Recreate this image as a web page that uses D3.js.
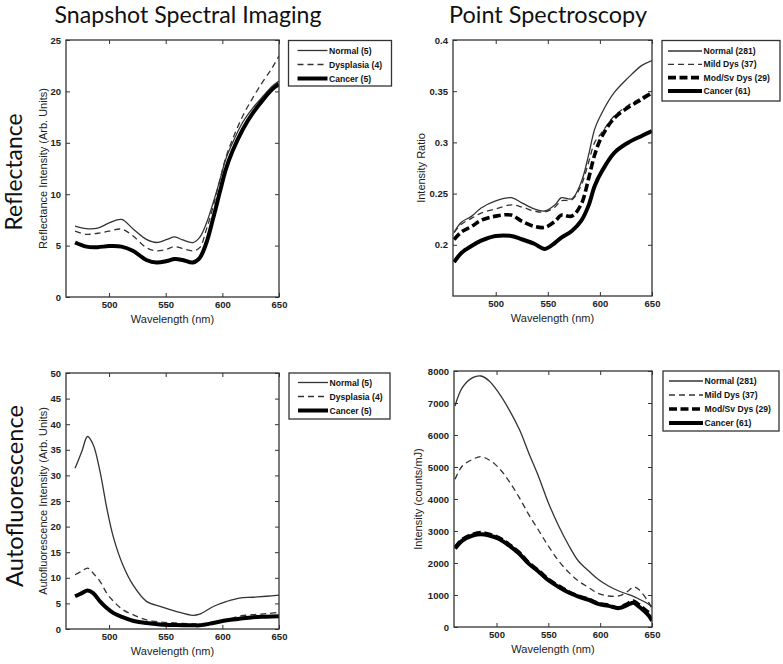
<!DOCTYPE html>
<html>
<head>
<meta charset="utf-8">
<script src="https://cdn.jsdelivr.net/npm/d3@7"></script>
<style>
	body { margin: 0; background: #fff; }
	.tick text { font-family: "Liberation Sans", Arial, sans-serif; font-size: 9.5px; font-weight: bold; fill: #222; }
	.tick line { stroke: #333; stroke-width: 1; }
	.frame { fill: none; stroke: #333; stroke-width: 1.3; }
	.ax-label { font-family: "Liberation Sans", Arial, sans-serif; font-size: 11px; fill: #222; }
	.leg-text { font-family: "Liberation Sans", Arial, sans-serif; font-size: 8.6px; font-weight: bold; fill: #111; }
	.big-label { font-family: Lato, "Open Sans", sans-serif; fill: #111; }
</style>
</head>
<body>
<script>
"use strict";

// ---- Data -----------------------------------------------------------------

// Snapshot spectral imaging, reflectance
var ssiReflWl     = [470, 480, 490, 500, 511, 521, 533, 542, 551, 558, 565, 574, 580, 586, 592, 598, 603, 609, 618, 627, 636, 644, 650];
var ssiReflNormal = [6.9, 6.65, 6.7, 7.2, 7.55, 6.65, 5.6, 5.3, 5.6, 5.85, 5.55, 5.3, 5.8, 7.2, 9.2, 11.45, 13.4, 15.0, 17.0, 18.4, 19.55, 20.5, 21.0];
var ssiReflDysp   = [6.4, 6.1, 6.2, 6.4, 6.6, 5.95, 4.8, 4.5, 4.65, 4.9, 4.7, 4.5, 4.8, 6.6, 8.85, 11.45, 13.55, 15.35, 17.6, 19.4, 21.0, 22.3, 23.45];
var ssiReflCancer = [5.3, 4.9, 4.85, 4.95, 4.9, 4.5, 3.6, 3.35, 3.5, 3.7, 3.6, 3.35, 3.8, 5.3, 7.7, 10.3, 12.4, 14.2, 16.3, 17.9, 19.2, 20.2, 20.7];

// Point spectroscopy, reflectance (intensity ratio)
var psReflWl     = [460, 467, 477, 486, 500, 515, 525, 537, 547, 557, 563, 573, 582, 589, 595, 602, 614, 627, 640, 650];
var psReflNormal = [0.212, 0.222, 0.228, 0.236, 0.243, 0.246, 0.241, 0.235, 0.233, 0.239, 0.246, 0.245, 0.261, 0.287, 0.313, 0.329, 0.349, 0.363, 0.375, 0.380];
var psReflMild   = [0.212, 0.220, 0.226, 0.231, 0.235, 0.239, 0.237, 0.233, 0.232, 0.237, 0.243, 0.244, 0.258, 0.280, 0.300, 0.310, 0.326, 0.336, 0.344, 0.350];
var psReflModSv  = [0.205, 0.2125, 0.218, 0.224, 0.228, 0.229, 0.223, 0.218, 0.217, 0.223, 0.229, 0.228, 0.2395, 0.264, 0.288, 0.306, 0.324, 0.334, 0.342, 0.3486];
var psReflCancer = [0.183, 0.192, 0.199, 0.204, 0.2086, 0.2086, 0.2054, 0.201, 0.196, 0.202, 0.207, 0.2135, 0.2233, 0.238, 0.2575, 0.272, 0.29, 0.2997, 0.3063, 0.311];

// Snapshot spectral imaging, autofluorescence
var ssiAfWl     = [470, 476, 481, 486, 492, 498, 504, 512, 521, 533, 545, 559, 574, 580, 592, 604, 615, 627, 639, 650];
var ssiAfNormal = [31.4, 34.7, 37.6, 36.0, 30.8, 23.6, 17.8, 12.6, 8.66, 5.4, 4.4, 3.45, 2.67, 2.9, 4.4, 5.4, 6.05, 6.2, 6.4, 6.6];
var ssiAfDysp   = [10.6, 11.3, 11.9, 10.9, 9.3, 7.0, 5.4, 3.8, 2.8, 1.8, 1.37, 1.17, 0.98, 0.98, 1.3, 1.8, 2.5, 2.8, 3.0, 3.25];
var ssiAfCancer = [6.4, 7.0, 7.5, 7.0, 5.4, 4.1, 3.1, 2.3, 1.6, 1.17, 0.9, 0.78, 0.72, 0.72, 1.17, 1.7, 2.0, 2.3, 2.4, 2.5];

// Point spectroscopy, autofluorescence (counts/mJ)
var psAfWl     = [460, 467, 477, 485, 493, 502, 512, 522, 531, 541, 550, 560, 570, 579, 589, 598, 608, 618, 627, 632, 637, 647, 650];
var psAfNormal = [6906, 7479, 7792, 7844, 7688, 7323, 6802, 6177, 5448, 4667, 3885, 3156, 2531, 2062, 1750, 1490, 1281, 1125, 1021, 960, 880, 708, 635];
var psAfMild   = [4615, 5031, 5240, 5323, 5219, 4979, 4562, 4042, 3521, 3000, 2531, 2062, 1698, 1438, 1229, 1052, 969, 969, 1125, 1250, 1177, 760, 552];
var psAfModSv  = [2479, 2740, 2896, 2948, 2896, 2792, 2583, 2323, 2010, 1750, 1490, 1281, 1094, 969, 865, 740, 677, 604, 740, 812, 708, 450, 400];
var psAfCancer = [2450, 2700, 2860, 2900, 2860, 2760, 2550, 2290, 1980, 1720, 1460, 1250, 1070, 950, 845, 720, 660, 590, 700, 760, 650, 350, 190];

// Tick values
var wlTicks       = [500, 550, 600, 650];
var ssiReflTicks  = [0, 5, 10, 15, 20, 25];
var psReflTicks   = [0.2, 0.25, 0.3, 0.35, 0.4];
var ssiAfTicks    = [0, 5, 10, 15, 20, 25, 30, 35, 40, 45, 50];
var psAfTicks     = [0, 1000, 2000, 3000, 4000, 5000, 6000, 7000, 8000];

// Legend labels
var ssiNames = ["Normal (5)", "Dysplasia (4)", "Cancer (5)"];
var psNames  = ["Normal (281)", "Mild Dys (37)", "Mod/Sv Dys (29)", "Cancer (61)"];

// ---- Line styles -------------------------------------------------------------
var stNormal = { color: "#333", width: 1.3, dash: null };
var stDysp   = { color: "#333", width: 1.3, dash: "6,4" };
var stModSv  = { color: "#000", width: 3.6, dash: "8,3.5" };
var stCancer = { color: "#000", width: 4, dash: null };

var svg = d3.select("body").append("svg").attr("width", 783).attr("height", 664);

////////////////////////////////////////////////////////////////////////////////
// Draw one MATLAB-style panel: boxed axes, inward ticks on all 4 sides,
// the spectra, and a legend to the right.
////////////////////////////////////////////////////////////////////////////////
function drawPanel(p) {
	var w = p.x1 - p.x0, h = p.y1 - p.y0;
	var g = svg.append("g").attr("transform", "translate(" + p.x0 + "," + p.y0 + ")");

	var x = d3.scaleLinear().domain(p.xDom).range([0, w]);
	var y = d3.scaleLinear().domain(p.yDom).range([h, 0]);
	var fmt = function(d) { return String(d); };

	// bottom / left axes with labels, top / right mirrored without
	g.append("g").attr("transform", "translate(0," + h + ")")
		.call(d3.axisBottom(x).tickValues(wlTicks).tickFormat(fmt).tickSizeInner(-4).tickSizeOuter(0).tickPadding(4))
		.call(function(a) { a.select(".domain").remove(); });
	g.append("g")
		.call(d3.axisTop(x).tickValues(wlTicks).tickFormat("").tickSizeInner(-4).tickSizeOuter(0))
		.call(function(a) { a.select(".domain").remove(); });
	g.append("g")
		.call(d3.axisLeft(y).tickValues(p.yTicks).tickFormat(fmt).tickSizeInner(-4).tickSizeOuter(0).tickPadding(5))
		.call(function(a) { a.select(".domain").remove(); });
	g.append("g").attr("transform", "translate(" + w + ",0)")
		.call(d3.axisRight(y).tickValues(p.yTicks).tickFormat("").tickSizeInner(-4).tickSizeOuter(0))
		.call(function(a) { a.select(".domain").remove(); });

	// spectra, clipped to the box
	var clipId = "clip" + p.id;
	g.append("clipPath").attr("id", clipId).append("rect").attr("width", w).attr("height", h);
	var line = d3.line().curve(d3.curveCatmullRom.alpha(0.5))
		.x(function(d) { return x(d[0]); }).y(function(d) { return y(d[1]); });
	var cg = g.append("g").attr("clip-path", "url(#" + clipId + ")");
	p.series.forEach(function(s) {
		cg.append("path").datum(d3.zip(p.wl, s.values))
			.attr("d", line).attr("fill", "none")
			.attr("stroke", s.style.color).attr("stroke-width", s.style.width)
			.attr("stroke-dasharray", s.style.dash).attr("stroke-linejoin", "round");
	});

	g.append("rect").attr("class", "frame").attr("width", w).attr("height", h);

	// axis labels
	g.append("text").attr("class", "ax-label").attr("x", w / 2).attr("y", h + 26)
		.attr("text-anchor", "middle").text("Wavelength (nm)");
	g.append("text").attr("class", "ax-label")
		.attr("transform", "translate(" + (p.yLabX - p.x0) + "," + (h / 2) + ") rotate(-90)")
		.attr("text-anchor", "middle").text(p.yLabel);

	drawLegend(p.leg, p.series);
}

////////////////////////////////////////////////////////////////////////////////
// Legend box with line samples
////////////////////////////////////////////////////////////////////////////////
function drawLegend(L, series) {
	var lg = svg.append("g").attr("transform", "translate(" + L.x + "," + L.y + ")");
	lg.append("rect").attr("width", L.w).attr("height", L.h)
		.attr("fill", "#fff").attr("stroke", "#333").attr("stroke-width", 1.3);
	series.forEach(function(s, i) {
		var ry = L.top + i * L.step;
		lg.append("line").attr("x1", L.l0).attr("x2", L.l1).attr("y1", ry).attr("y2", ry)
			.attr("stroke", s.style.color).attr("stroke-width", s.style.width)
			.attr("stroke-dasharray", s.style.dash);
		lg.append("text").attr("class", "leg-text").attr("x", L.l1 + 1.5).attr("y", ry)
			.attr("dy", "0.35em").text(s.name);
	});
}

// Put a text whose size is fitted to a measured length
function bigText(txt, x, y, len, rotate) {
	var t = svg.append("text").attr("class", "big-label").attr("text-anchor", "middle")
		.style("font-size", "20px").text(txt);
	var fs = 20 * len / t.node().getComputedTextLength();
	t.style("font-size", fs + "px");
	t.attr("transform", "translate(" + x + "," + y + ")" + (rotate ? " rotate(-90)" : ""));
}

// ---- Panels ----------------------------------------------------------------
drawPanel({
	id: 1, x0: 66, x1: 279, y0: 40, y1: 297, xDom: [462, 650], yDom: [0, 25], yTicks: ssiReflTicks,
	wl: ssiReflWl, yLabel: "Reflectance Intensity (Arb. Units)", yLabX: 47,
	series: [
		{ name: ssiNames[0], values: ssiReflNormal, style: stNormal },
		{ name: ssiNames[1], values: ssiReflDysp, style: stDysp },
		{ name: ssiNames[2], values: ssiReflCancer, style: stCancer }
	],
	leg: { x: 288.5, y: 40.5, w: 103, h: 45.5, top: 10, step: 14, l0: 9, l1: 39 }
});

drawPanel({
	id: 2, x0: 453, x1: 652, y0: 40, y1: 296, xDom: [459, 650], yDom: [0.15, 0.4], yTicks: psReflTicks,
	wl: psReflWl, yLabel: "Intensity Ratio", yLabX: 425,
	series: [
		{ name: psNames[0], values: psReflNormal, style: stNormal },
		{ name: psNames[1], values: psReflMild, style: stDysp },
		{ name: psNames[2], values: psReflModSv, style: stModSv },
		{ name: psNames[3], values: psReflCancer, style: stCancer }
	],
	leg: { x: 662, y: 40.5, w: 118, h: 60.5, top: 10.5, step: 13.3, l0: 6, l1: 40 }
});

drawPanel({
	id: 3, x0: 66, x1: 279, y0: 373, y1: 629, xDom: [462, 650], yDom: [0, 50], yTicks: ssiAfTicks,
	wl: ssiAfWl, yLabel: "Autofluorescence Intensity (Arb. Units)", yLabX: 47,
	series: [
		{ name: ssiNames[0], values: ssiAfNormal, style: stNormal },
		{ name: ssiNames[1], values: ssiAfDysp, style: stDysp },
		{ name: ssiNames[2], values: ssiAfCancer, style: stCancer }
	],
	leg: { x: 289, y: 373, w: 101, h: 46, top: 9.5, step: 14, l0: 9, l1: 39 }
});

drawPanel({
	id: 4, x0: 454, x1: 652, y0: 371, y1: 627, xDom: [459, 650], yDom: [0, 8000], yTicks: psAfTicks,
	wl: psAfWl, yLabel: "Intensity (counts/mJ)", yLabX: 422,
	series: [
		{ name: psNames[0], values: psAfNormal, style: stNormal },
		{ name: psNames[1], values: psAfMild, style: stDysp },
		{ name: psNames[2], values: psAfModSv, style: stModSv },
		{ name: psNames[3], values: psAfCancer, style: stCancer }
	],
	leg: { x: 663, y: 371, w: 116, h: 60, top: 10, step: 14, l0: 6, l1: 40 }
});

// ---- Column titles and row labels ------------------------------------------
bigText("Snapshot Spectral Imaging", 188, 23, 267, false);
bigText("Point Spectroscopy", 548, 23, 198, false);
bigText("Reflectance", 22, 172, 117, true);
bigText("Autofluorescence", 23, 496, 182, true);
</script>
</body>
</html>
